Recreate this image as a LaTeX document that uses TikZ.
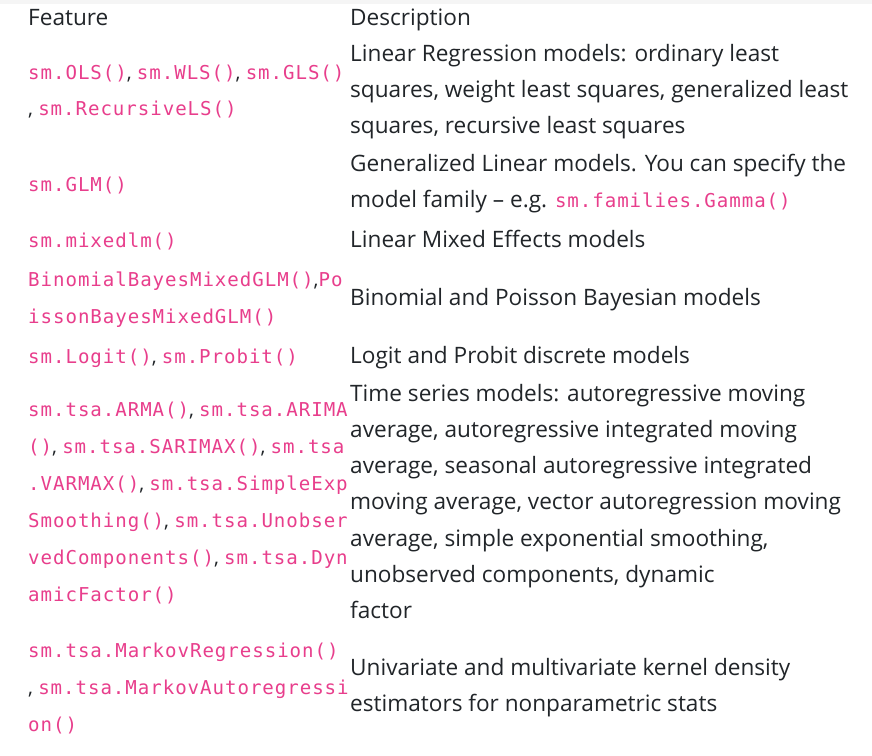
\documentclass[tikz,border=0pt]{standalone}
\usepackage{fontspec}
\setmainfont{Open Sans}
\newfontfamily\codefont[LetterSpace=5]{DejaVu Sans Mono}
\definecolor{txt}{HTML}{212529}
\definecolor{code}{HTML}{E83E8C}
\newcommand{\cd}[1]{{\codefont\fontsize{19.1}{22}\selectfont\color{code}#1}}
\begin{document}
\begin{tikzpicture}[x=1pt,y=-1pt,
  t/.style={anchor=base west,inner sep=0pt,text=txt,font=\fontsize{22.6}{26}\selectfont},
  c/.style={anchor=base west,inner sep=0pt,text=txt,font=\fontsize{20}{24}\selectfont}]
\useasboundingbox[fill=white] (0,0) rectangle (872,755);
\fill[black!4] (0,0) rectangle (872,4);
\node[t] (h1) at (28,25) {Feature};
\node[t] (h2) at (350,25) {Description};
% row1
\node[c] (a1) at (28,79) {\cd{sm.OLS()}, \cd{sm.WLS()}, \cd{sm.GLS()}};
\node[c] (a2) at (28,115) {, \cd{sm.RecursiveLS()}};
\node[t] (b1) at (350,61) {Linear Regression models: ordinary least};
\node[t] (b2) at (350,97) {squares, weight least squares, generalized least};
\node[t] (b3) at (350,133) {squares, recursive least squares};
% row2
\node[c] (a3) at (28,191) {\cd{sm.GLM()}};
\node[t] (b4) at (350,171) {Generalized Linear models. You can specify the};
\node[t] (b5) at (350,207) {model family – e.g. \cd{sm.families.Gamma()}};
% row3
\node[c] (a4) at (28,247) {\cd{sm.mixedlm()}};
\node[t] (b6) at (350,247) {Linear Mixed Effects models};
% row4
\node[c] (a5) at (28,286) {\cd{BinomialBayesMixedGLM()},\cd{Po}};
\node[c] (a6) at (28,323) {\cd{issonBayesMixedGLM()}};
\node[t] (b7) at (350,305) {Binomial and Poisson Bayesian models};
% row5
\node[c] (a7) at (28,363) {\cd{sm.Logit()}, \cd{sm.Probit()}};
\node[t] (b8) at (350,363) {Logit and Probit discrete models};
% row6
\node[c] (a8) at (28,416) {\cd{sm.tsa.ARMA()}, \cd{sm.tsa.ARIMA}};
\node[c] (a9) at (28,453) {\cd{()}, \cd{sm.tsa.SARIMAX()}, \cd{sm.tsa}};
\node[c] (a10) at (28,490) {\cd{.VARMAX()}, \cd{sm.tsa.SimpleExp}};
\node[c] (a11) at (28,527) {\cd{Smoothing()}, \cd{sm.tsa.Unobser}};
\node[c] (a12) at (28,564) {\cd{vedComponents()}, \cd{sm.tsa.Dyn}};
\node[c] (a13) at (28,601) {\cd{amicFactor()}};
\node[t] (b9) at (350,401) {Time series models: autoregressive moving};
\node[t] (b10) at (350,437) {average, autoregressive integrated moving};
\node[t] (b11) at (350,473) {average, seasonal autoregressive integrated};
\node[t] (b12) at (350,509) {moving average, vector autoregression moving};
\node[t] (b13) at (350,546) {average, simple exponential smoothing,};
\node[t] (b14) at (350,582) {unobserved components, dynamic};
\node[t] (b15) at (350,618) {factor};
% row7
\node[c] (a14) at (28,657) {\cd{sm.tsa.MarkovRegression()}};
\node[c] (a15) at (28,694) {, \cd{sm.tsa.MarkovAutoregressi}};
\node[c] (a16) at (28,731) {\cd{on()}};
\node[t] (b16) at (350,675) {Univariate and multivariate kernel density};
\node[t] (b17) at (350,711) {estimators for nonparametric stats};
\end{tikzpicture}
\end{document}
